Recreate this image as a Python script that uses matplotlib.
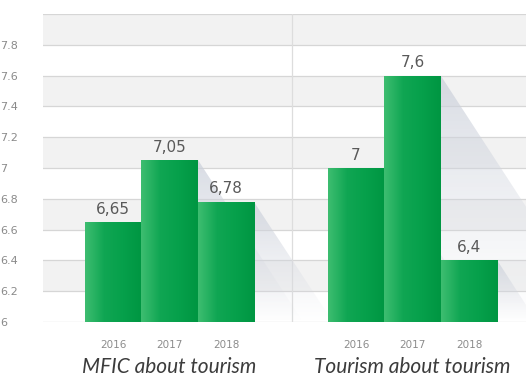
import numpy as np
import matplotlib.pyplot as plt
from matplotlib.colors import LinearSegmentedColormap
from matplotlib.patches import Polygon

# data
years = ['2016', '2017', '2018']
mfic_values = [6.65, 7.05, 6.78]
tourism_values = [7.0, 7.6, 6.4]
value_labels_mfic = ['6,65', '7,05', '6,78']
value_labels_tourism = ['7', '7,6', '6,4']
group_titles = ['MFIC about tourism', 'Tourism about tourism']
y_ticks = [6.0, 6.2, 6.4, 6.6, 6.8, 7.0, 7.2, 7.4, 7.6, 7.8]
y_tick_labels = ['6', '6.2', '6.4', '6.6', '6.8', '7', '7.2', '7.4', '7.6', '7.8']

# layout
W, H = 526, 376
y_min, y_max = 6.0, 8.0
x_left, x_right = -1.24, 7.31
group_offset = 4.3
sep_x = 3.17

fig = plt.figure(figsize=(W / 100, H / 100), dpi=100)
ax = fig.add_axes([43 / W, 1 - 322 / H, 1 - 43 / W, (322 - 14) / H])
ax.set_xlim(x_left, x_right)
ax.set_ylim(y_min, y_max)

# alternating background bands
band_edges = y_ticks + [y_max]
for i in range(len(band_edges) - 1):
    if i % 2 == 1:
        ax.axhspan(band_edges[i], band_edges[i + 1], color='#f2f2f2', zorder=0, lw=0)
for t in y_ticks[1:] + [y_max]:
    ax.axhline(t, color='#d6d6d6', lw=0.9, zorder=1)
ax.axhline(y_min, color='#d0d0d0', lw=0.9, zorder=1)
ax.axvline(sep_x, color='#dddddd', lw=0.9, zorder=1)

green = LinearSegmentedColormap.from_list(
    'g', ['#3dbd70', '#10a653', '#06a04b', '#009642'])
grad = np.linspace(0, 1, 64).reshape(1, -1)
shade_cmap = LinearSegmentedColormap.from_list(
    's', [(0.80, 0.82, 0.86, 0.75), (0.86, 0.87, 0.90, 0.0)])
shade_grad = np.linspace(0, 1, 64).reshape(-1, 1)

x_scale = 154.5 / 56.5  # px per y-unit over px per x-unit
for gi, vals in enumerate([mfic_values, tourism_values]):
    xs = np.arange(len(vals)) + gi * group_offset
    # shadows behind bars
    for x, v in zip(xs, vals):
        h = v - y_min
        right = x + 0.5
        tri = Polygon([(right, v), (right, y_min), (right + 0.65 * x_scale * h, y_min)],
                      closed=True, facecolor='none', edgecolor='none')
        ax.add_patch(tri)
        im = ax.imshow(shade_grad, cmap=shade_cmap, aspect='auto', zorder=2,
                       extent=[right, right + 0.65 * x_scale * h, y_min, v], origin='upper')
        im.set_clip_path(tri)
    bars = ax.bar(xs, [v - y_min for v in vals], bottom=y_min, width=1.0,
                  color='#0aa24d', lw=0, zorder=3)
    for b in bars:
        x0, y0 = b.get_x(), b.get_y()
        im = ax.imshow(grad, cmap=green, aspect='auto', zorder=3.5,
                       extent=[x0, x0 + b.get_width(), y0, y0 + b.get_height()])
        im.set_clip_path(b)

labels_all = [value_labels_mfic, value_labels_tourism]
for gi, vals in enumerate([mfic_values, tourism_values]):
    xs = np.arange(len(vals)) + gi * group_offset
    for x, v, lab in zip(xs, vals, labels_all[gi]):
        ax.text(x, v + 0.035, lab, ha='center', va='bottom', fontsize=11,
                color='#595959', zorder=5)
    for x, yr in zip(xs, years):
        ax.text(x, y_min - 0.15, yr, ha='center', va='center', fontsize=7.5,
                color='#8c8c8c')
    ax.text(xs[1], y_min - 0.29, group_titles[gi], ha='center', va='center',
            fontsize=15, style='italic', family='Lato', color='#3c3c3c')

ax.set_xlim(x_left, x_right)
ax.set_ylim(y_min, y_max)
ax.set_yticks(y_ticks)
ax.set_yticklabels(y_tick_labels, fontsize=8, color='#8a8a8a', ha='left')
ax.tick_params(axis='y', length=0, pad=31)
ax.set_xticks([])
for s in ax.spines.values():
    s.set_visible(False)

fig.savefig('out.png', dpi=100)
